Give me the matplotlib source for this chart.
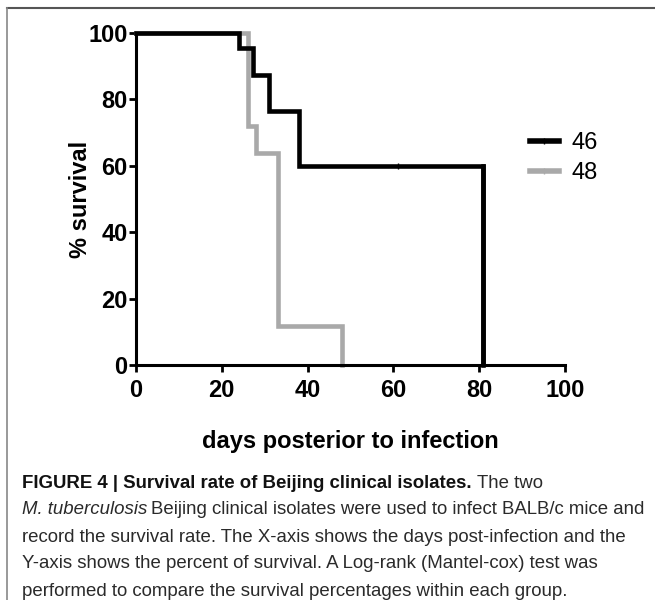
import matplotlib.pyplot as plt
from matplotlib.lines import Line2D

plt.rcParams['font.family'] = ['Liberation Sans', 'DejaVu Sans']

# survival steps (day, % survival)
days_46 = [0, 24, 27.3, 31, 38, 81]
surv_46 = [100, 95.5, 87.5, 76.5, 60, 0]
cens_46_day = [61]
cens_46_val = [60]

days_48 = [0, 26, 28, 33, 48]
surv_48 = [100, 72, 64, 11.6, 0]

xticks = [0, 20, 40, 60, 80, 100]
yticks = [0, 20, 40, 60, 80, 100]

W, H = 655, 600
fig = plt.figure(figsize=(W / 100, H / 100), dpi=100)
ax = fig.add_axes([136 / W, 1 - 365 / H, 429 / W, 332 / H])

c46 = 'black'
c48 = '#a9a9a9'
ax.step(days_48, surv_48, where='post', color=c48, lw=3.3, clip_on=False,
        solid_joinstyle='miter')
ax.step(days_46, surv_46, where='post', color=c46, lw=3.3, clip_on=False,
        solid_joinstyle='miter')
ax.plot([days_46[-1], days_46[-1]], [surv_46[-2], 0], color=c46, lw=3.3)
ax.plot(cens_46_day, cens_46_val, marker='|', ms=5, mew=1.0, color=c46, ls='none')

ax.set_xlim(0, 100)
ax.set_ylim(0, 100)
ax.set_xticks(xticks)
ax.set_yticks(yticks)
for s in ['top', 'right']:
    ax.spines[s].set_visible(False)
for s in ['left', 'bottom']:
    ax.spines[s].set_linewidth(2.2)
ax.tick_params(direction='out', length=5, width=2, labelsize=17)
ax.tick_params(axis='x', pad=5)
ax.tick_params(axis='y', pad=1)
for lab in ax.get_xticklabels() + ax.get_yticklabels():
    lab.set_fontweight('bold')
ax.set_xlabel('days posterior to infection', fontsize=17, fontweight='bold', labelpad=20)
ax.set_ylabel('% survival', fontsize=17, fontweight='bold', labelpad=-3)

handles = [Line2D([], [], color=c46, lw=4, marker='|', ms=5, mew=1.0),
           Line2D([], [], color=c48, lw=4, marker='|', ms=5, mew=1.0)]
fig.legend(handles, ['46', '48'], loc='center left', bbox_to_anchor=(509 / W, 1 - 158 / H),
           frameon=False, fontsize=17, handlelength=1.2, handletextpad=0.55,
           labelspacing=0.32)

# outer frame
fig.add_artist(Line2D([7 / W, 1], [1 - 8 / H, 1 - 8 / H], color='#555555', lw=1.5,
                      transform=fig.transFigure))
fig.add_artist(Line2D([7 / W, 7 / W], [0, 1 - 8 / H], color='#888888', lw=1.2,
                      transform=fig.transFigure))

# caption
cap_x = 22 / W
cap_y = [483, 510, 537, 564, 591]
fs = 13.4
txt_c = '#2a2a2a'
fig.canvas.draw()
r = fig.canvas.get_renderer()

t1 = fig.text(cap_x, 1 - cap_y[0] / H, 'FIGURE 4 | Survival rate of Beijing clinical isolates.',
              fontsize=fs, fontweight='bold', va='center', color='#111111')
x1 = t1.get_window_extent(r).x1
fig.text((x1 + 5) / W, 1 - cap_y[0] / H, 'The two', fontsize=fs, va='center', color=txt_c)

t2 = fig.text(cap_x, 1 - cap_y[1] / H, 'M. tuberculosis', fontsize=fs, style='italic',
              va='center', color=txt_c)
x2 = t2.get_window_extent(r).x1
fig.text((x2 + 4) / W, 1 - cap_y[1] / H,
         'Beijing clinical isolates were used to infect BALB/c mice and',
         fontsize=fs, va='center', color=txt_c)
fig.text(cap_x, 1 - cap_y[2] / H,
         'record the survival rate. The X-axis shows the days post-infection and the',
         fontsize=fs, va='center', color=txt_c)
fig.text(cap_x, 1 - cap_y[3] / H,
         'Y-axis shows the percent of survival. A Log-rank (Mantel-cox) test was',
         fontsize=fs, va='center', color=txt_c)
fig.text(cap_x, 1 - cap_y[4] / H,
         'performed to compare the survival percentages within each group.',
         fontsize=fs, va='center', color=txt_c)

fig.savefig('out.png', dpi=100)
